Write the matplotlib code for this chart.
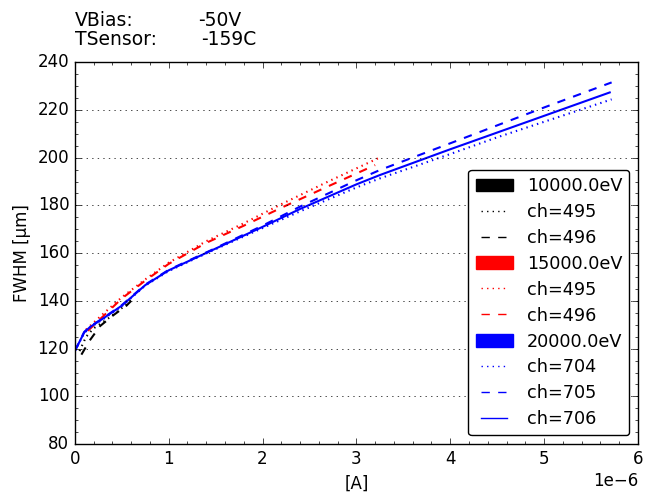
import numpy as np
import matplotlib
matplotlib.use("Agg")
import matplotlib.pyplot as plt
from matplotlib.patches import Patch
from matplotlib.lines import Line2D
from matplotlib.ticker import AutoMinorLocator

plt.style.use('classic')

# current in uA (scaled to A when plotted), FWHM in um
x_10k_495 = [0.05, 0.12, 0.2, 0.35, 0.5, 0.6]
y_10k_495 = [119.0, 125.0, 128.5, 132.5, 137.0, 140.5]
x_10k_496 = [0.07, 0.16, 0.27, 0.41, 0.55, 0.6]
y_10k_496 = [117.5, 123.5, 129.5, 134.0, 138.0, 140.0]

x_15k_495 = [0.12, 0.3, 0.5, 0.75, 1.0, 1.4, 1.8, 2.2, 2.7, 3.23]
y_15k_495 = [128.0, 134.5, 141.5, 149.0, 156.0, 165.0, 172.5, 180.5, 190.0, 199.7]
x_15k_496 = [0.14, 0.3, 0.5, 0.75, 1.0, 1.4, 1.8, 2.2, 2.7, 3.2]
y_15k_496 = [127.5, 133.5, 141.0, 148.5, 155.5, 164.3, 171.5, 179.0, 188.0, 196.9]

x_20k_704 = [0.0, 0.1, 0.16, 0.3, 0.5, 0.75, 1.0, 1.45, 2.0, 2.4, 3.0, 3.25, 4.0, 4.5, 5.0, 5.72]
y_20k_704 = [119.0, 126.5, 128.8, 132.3, 137.8, 146.4, 152.5, 160.8, 170.5, 177.5, 187.5, 191.3, 201.5, 208.5, 215.0, 224.4]
x_20k_705 = [0.0, 0.1, 0.16, 0.3, 0.5, 0.75, 1.0, 1.45, 2.0, 2.4, 3.0, 3.25, 4.0, 4.5, 5.0, 5.72]
y_20k_705 = [119.0, 127.0, 129.2, 132.8, 138.2, 146.8, 153.0, 161.2, 171.5, 179.5, 190.5, 194.8, 206.0, 213.5, 221.0, 231.5]
x_20k_706 = [0.0, 0.1, 0.16, 0.3, 0.5, 0.75, 1.0, 1.45, 2.0, 2.4, 3.0, 3.25, 4.0, 4.5, 5.0, 5.7]
y_20k_706 = [119.0, 126.8, 129.0, 132.6, 138.0, 146.6, 152.8, 161.0, 171.0, 178.5, 188.8, 192.7, 203.5, 210.5, 217.5, 227.3]

series = [
    (x_10k_495, y_10k_495, 'k', ':'),
    (x_10k_496, y_10k_496, 'k', '--'),
    (x_15k_495, y_15k_495, 'r', ':'),
    (x_15k_496, y_15k_496, 'r', '--'),
    (x_20k_704, y_20k_704, 'b', ':'),
    (x_20k_705, y_20k_705, 'b', '--'),
    (x_20k_706, y_20k_706, 'b', '-'),
]

fig = plt.figure(figsize=(6.45, 4.93), dpi=100, facecolor='white')
ax = fig.add_axes([0.116, 0.099, 0.873, 0.775])

for xs, ys, c, ls in series:
    ax.plot(np.array(xs) * 1e-6, ys, color=c, linestyle=ls, linewidth=1.5)

ax.set_xlim(0, 6e-6)
ax.set_ylim(80, 240)
ax.ticklabel_format(axis='x', style='sci', scilimits=(0, 0))
ax.xaxis.set_minor_locator(AutoMinorLocator(5))
ax.yaxis.set_minor_locator(AutoMinorLocator(4))
ax.yaxis.grid(True, linestyle=':', color='k')
ax.tick_params(labelsize=12)
ax.xaxis.get_offset_text().set_fontsize(12)
ax.set_xlabel('[A]', fontsize=12)
ax.set_ylabel('FWHM [µm]', fontsize=12)

handles = [
    Patch(color='k', label='10000.0eV'),
    Line2D([], [], color='k', linestyle=':', label='ch=495'),
    Line2D([], [], color='k', linestyle='--', label='ch=496'),
    Patch(color='r', label='15000.0eV'),
    Line2D([], [], color='r', linestyle=':', label='ch=495'),
    Line2D([], [], color='r', linestyle='--', label='ch=496'),
    Patch(color='b', label='20000.0eV'),
    Line2D([], [], color='b', linestyle=':', label='ch=704'),
    Line2D([], [], color='b', linestyle='--', label='ch=705'),
    Line2D([], [], color='b', linestyle='-', label='ch=706'),
]
ax.legend(handles=handles, loc='lower right', fontsize=12.7, fancybox=True,
          labelspacing=0.45, handlelength=2.1)

ax.text(0.0, 1.094, 'VBias:', transform=ax.transAxes, fontsize=13.5)
ax.text(0.2185, 1.094, '-50V', transform=ax.transAxes, fontsize=13.5)
ax.text(0.0, 1.0445, 'TSensor:', transform=ax.transAxes, fontsize=13.5)
ax.text(0.225, 1.0445, '-159C', transform=ax.transAxes, fontsize=13.5)

fig.savefig('out.png', dpi=100, facecolor='white')
